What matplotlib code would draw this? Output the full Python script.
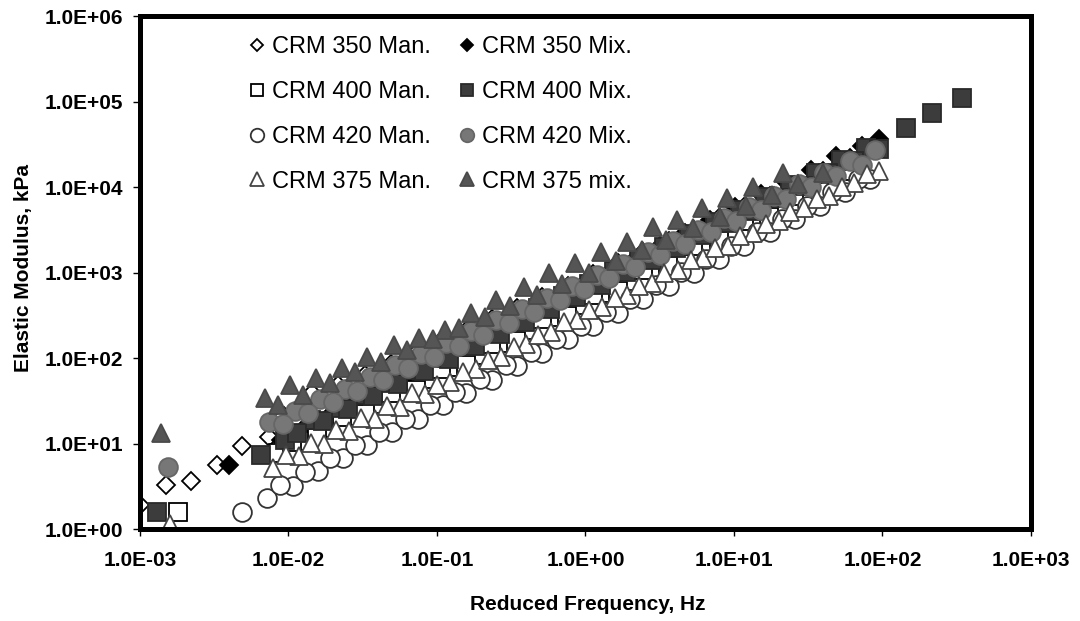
import matplotlib
matplotlib.use("Agg")
import matplotlib.pyplot as plt

plt.rcParams['font.family'] = ['Liberation Sans', 'DejaVu Sans']

# Reduced frequency (Hz) and elastic modulus (kPa).
# Each mix has two overlapping sweeps (a / b) that stack up into the dense band.
f_350_man_a = [0.001, 0.0015, 0.0022, 0.0033, 0.0049, 0.0074, 0.0093, 0.0145, 0.0215, 0.0327, 0.049, 0.072,
               0.107, 0.158, 0.234, 0.347, 0.513, 0.76, 1.12, 1.66, 2.45, 3.63, 5.37, 7.94, 11.7, 17.4, 25.7,
               38, 56, 87]
e_350_man_a = [1.9, 3.3, 3.6, 5.6, 9.3, 11.9, 21, 39, 48, 63, 86, 116, 157, 205, 286, 386, 521, 690, 951, 1285,
               1738, 2344, 3162, 4400, 5781, 7798, 10540, 14220, 19230, 26900]
f_350_man_b = [0.0118, 0.04, 0.06, 0.088, 0.13, 0.19, 0.28, 0.42, 0.62, 0.92, 1.38, 2.0, 3.0, 4.4, 6.5, 9.6,
               14, 21, 31, 46]
e_350_man_b = [26, 56, 76, 102, 138, 185, 248, 339, 457, 620, 847, 1125, 1535, 2060, 2780, 3750, 5010, 6840,
               9230, 12500]

f_350_mix_a = [0.004, 0.0089, 0.0132, 0.0195, 0.0288, 0.0427, 0.063, 0.0933, 0.138, 0.204, 0.302, 0.447, 0.661,
               0.977, 1.45, 2.14, 3.16, 4.68, 6.92, 10.2, 15.1, 22.4, 33.1, 49, 72.4, 95]
e_350_mix_a = [5.6, 11, 16, 23, 32, 46, 64, 91, 130, 180, 260, 360, 510, 730, 1000, 1450, 2050, 2900, 4100, 5800,
               8200, 11500, 16000, 23000, 30000, 36000]
f_350_mix_b = [0.011, 0.016, 0.024, 0.035, 0.052, 0.077, 0.115, 0.17, 0.25, 0.37, 0.55, 0.81, 1.2, 1.78, 2.6,
               3.9, 5.7, 8.4, 12.5, 18.5, 27, 40, 60]
e_350_mix_b = [10.9, 15.2, 21.8, 30.4, 43, 61, 87, 123, 173, 244, 347, 489, 692, 980, 1370, 1960, 2740, 3860,
               5500, 7770, 10800, 15400, 22000]

f_400_man_a = [0.0018, 0.0085, 0.0125, 0.0185, 0.027, 0.040, 0.059, 0.088, 0.13, 0.19, 0.28, 0.42, 0.62, 0.92,
               1.36, 2.0, 3.0, 4.4, 6.5, 9.6, 14.2, 21, 31, 46, 68]
e_400_man_a = [1.6, 7.8, 10.8, 15, 21, 29, 40, 57, 79, 109, 151, 214, 298, 416, 580, 805, 1140, 1570, 2190, 3050,
               4270, 5940, 8280, 11600, 16100]
f_400_man_b = [0.0105, 0.0155, 0.023, 0.033, 0.049, 0.072, 0.107, 0.158, 0.23, 0.34, 0.51, 0.75, 1.12, 1.65,
               2.45, 3.6, 5.3, 7.9, 11.7, 17.3, 25.5, 38, 56]
e_400_man_b = [10.4, 11.5, 20.3, 21.9, 38.6, 42.6, 75, 83, 144, 159, 283, 312, 552, 610, 1074, 1183, 2070, 2307,
               4055, 4487, 7870, 8770, 15350]

f_400_mix_a = [0.0013, 0.0065, 0.0095, 0.0141, 0.0209, 0.0309, 0.0457, 0.0676, 0.1, 0.148, 0.219, 0.324, 0.479,
               0.708, 1.05, 1.55, 2.29, 3.39, 5.01, 7.41, 11, 16.2, 24, 35.5, 52.5, 77.6, 144, 215, 343]
e_400_mix_a = [1.6, 7.4, 11, 19, 26, 37, 51, 72, 100, 140, 195, 270, 380, 530, 740, 1030, 1430, 2000, 2800, 3900,
               5400, 7600, 10500, 14700, 20500, 28600, 49000, 73000, 110000]
f_400_mix_b = [0.0115, 0.017, 0.025, 0.037, 0.055, 0.082, 0.12, 0.18, 0.265, 0.39, 0.58, 0.86, 1.27, 1.88, 2.8,
               4.1, 6.1, 9, 13.3, 19.7, 29, 43, 64, 95]
e_400_mix_b = [13.2, 18.4, 25.6, 35.7, 50, 70, 97, 137, 190, 264, 371, 518, 722, 1007, 1413, 1954, 2737, 3810,
               5310, 7410, 10300, 14400, 20200, 28200]

f_420_man_a = [0.0049, 0.0072, 0.0107, 0.0158, 0.0234, 0.0339, 0.050, 0.074, 0.11, 0.158, 0.234, 0.347, 0.513,
               0.76, 1.12, 1.66, 2.45, 3.63, 5.37, 7.94, 11.7, 17.4, 25.7, 38, 56, 83]
e_420_man_a = [1.6, 2.3, 3.2, 4.8, 6.8, 9.5, 13.6, 19.5, 28, 39, 56, 81, 116, 166, 238, 340, 489, 700, 1000, 1440,
               2060, 2960, 4240, 6080, 8710, 12470]
f_420_man_b = [0.0088, 0.013, 0.019, 0.028, 0.041, 0.061, 0.09, 0.133, 0.196, 0.29, 0.43, 0.63, 0.93, 1.37, 2.0,
               3.0, 4.4, 6.5, 9.6, 14.2, 21, 31, 46, 68]
e_420_man_b = [3.3, 4.7, 6.7, 9.6, 13.6, 19.6, 28, 40, 57, 82, 118, 168, 240, 344, 486, 706, 1005, 1440, 2060,
               2950, 4230, 6050, 8710, 12500]

f_420_mix_a = [0.00155, 0.0074, 0.011, 0.0162, 0.024, 0.0355, 0.0525, 0.0776, 0.115, 0.17, 0.251, 0.372, 0.55,
               0.813, 1.2, 1.78, 2.63, 3.89, 5.75, 8.51, 12.6, 18.6, 27.5, 40.7, 60.3, 89]
e_420_mix_a = [5.3, 18, 24, 33, 44, 60, 82, 111, 150, 205, 275, 375, 510, 690, 940, 1270, 1730, 2340, 3180, 4300,
               5850, 7950, 10800, 14700, 19900, 27000]
f_420_mix_b = [0.0092, 0.0135, 0.02, 0.029, 0.043, 0.064, 0.095, 0.14, 0.205, 0.305, 0.45, 0.67, 0.98, 1.45,
               2.15, 3.2, 4.7, 7, 10.3, 15.2, 22.5, 33, 49, 73]
e_420_mix_b = [16.7, 22.5, 30.6, 40.8, 55, 76, 103, 139, 188, 256, 347, 473, 636, 863, 1173, 1600, 2160, 2940,
               3980, 5390, 7330, 9880, 13400, 18300]

f_375_man_a = [0.0016, 0.0079, 0.0117, 0.0174, 0.0257, 0.038, 0.0562, 0.0832, 0.123, 0.182, 0.269, 0.398, 0.589,
               0.871, 1.29, 1.91, 2.82, 4.17, 6.17, 9.12, 13.5, 20, 29.5, 43.6, 64.6, 95.5]
e_375_man_a = [1.15, 5.2, 7.2, 10, 14, 19.6, 27, 38, 53, 74, 104, 145, 200, 280, 390, 550, 760, 1060, 1490, 2070,
               2880, 4030, 5620, 7830, 11000, 15200]
f_375_man_b = [0.0096, 0.0142, 0.021, 0.031, 0.046, 0.068, 0.1, 0.15, 0.22, 0.33, 0.48, 0.72, 1.06, 1.57, 2.3,
               3.4, 5.1, 7.5, 11, 16.4, 24, 36, 53, 79]
e_375_man_b = [7.3, 10.2, 14.3, 19.9, 27.7, 38.7, 49, 69, 96, 135, 186, 262, 364, 509, 705, 982, 1387, 1923,
               2661, 3740, 5164, 7295, 10140, 14220]

f_375_mix_a = [0.00138, 0.00695, 0.0102, 0.0153, 0.0229, 0.0338, 0.0513, 0.0757, 0.113, 0.169, 0.249, 0.385,
               0.568, 0.849, 1.27, 1.90, 2.85, 4.13, 6.10, 8.97, 13.4, 21.4]
e_375_mix_a = [13.3, 34, 48, 58, 76, 102, 142, 171, 212, 336, 476, 676, 986, 1288, 1738, 2275, 3404, 4111, 5675,
               7430, 10000, 14590]
f_375_mix_b = [0.0085, 0.0125, 0.019, 0.028, 0.042, 0.063, 0.094, 0.14, 0.21, 0.31, 0.47, 0.7, 1.05, 1.6, 2.4,
               3.5, 5.3, 8, 12, 18, 27, 40]
e_375_mix_b = [28, 37, 51, 68, 91, 124, 166, 223, 301, 401, 546, 733, 991, 1352, 1824, 2414, 3281, 4446, 6000,
               8110, 10940, 14620]

x_ticks = [1e-3, 1e-2, 1e-1, 1e0, 1e1, 1e2, 1e3]
y_ticks = [1e0, 1e1, 1e2, 1e3, 1e4, 1e5, 1e6]

# label, x, y, marker, size, face, edge (plotting order as in the original workbook)
series = [
    ("CRM 350 Man.", f_350_man_a + f_350_man_b, e_350_man_a + e_350_man_b, "D", 9.0, "white", "black"),
    ("CRM 350 Mix.", f_350_mix_a + f_350_mix_b, e_350_mix_a + e_350_mix_b, "D", 9.0, "black", "black"),
    ("CRM 400 Man.", f_400_man_a + f_400_man_b, e_400_man_a + e_400_man_b, "s", 12.5, "white", "black"),
    ("CRM 400 Mix.", f_400_mix_a + f_400_mix_b, e_400_mix_a + e_400_mix_b, "s", 12.5, "#3c3c3c", "#2a2a2a"),
    ("CRM 420 Man.", f_420_man_a + f_420_man_b, e_420_man_a + e_420_man_b, "o", 13.5, "white", "#333333"),
    ("CRM 420 Mix.", f_420_mix_a + f_420_mix_b, e_420_mix_a + e_420_mix_b, "o", 13.5, "#777777", "#666666"),
    ("CRM 375 Man.", f_375_man_a + f_375_man_b, e_375_man_a + e_375_man_b, "^", 13.5, "white", "#444444"),
    ("CRM 375 mix.", f_375_mix_a + f_375_mix_b, e_375_mix_a + e_375_mix_b, "^", 13.5, "#555555", "#4a4a4a"),
]

fig = plt.figure(figsize=(10.8, 6.21), dpi=100)
ax = fig.add_axes([0.1296, 0.1481, 0.825, 0.8261])

handles = {}
for label, x, y, marker, ms, face, edge in series:
    h, = ax.plot(x, y, linestyle="none", marker=marker, markersize=ms,
                 markerfacecolor=face, markeredgecolor=edge, markeredgewidth=1.3,
                 label=label)
    handles[label] = h

ax.set_xscale("log")
ax.set_yscale("log")
ax.set_xlim(1e-3, 1e3)
ax.set_ylim(1e0, 1e6)
ax.set_xticks(x_ticks)
ax.set_xticklabels([f"{v:.1E}" for v in x_ticks], fontweight="bold")
ax.set_yticks(y_ticks)
ax.set_yticklabels([f"{v:.1E}" for v in y_ticks], fontweight="bold")
ax.minorticks_off()
ax.tick_params(axis="both", direction="out", length=5, width=1, labelsize=15)
ax.tick_params(axis="x", pad=11)
ax.tick_params(axis="y", pad=7)

for sp in ax.spines.values():
    sp.set_linewidth(3.6)
    sp.set_zorder(5)

fig.text(588 / 1080, 1 - 605 / 621, "Reduced Frequency, Hz", ha="center", va="center",
         fontsize=15, fontweight="bold")
fig.text(24 / 1080, 1 - 268 / 621, "Elastic Modulus, kPa", ha="center", va="center",
         rotation=90, fontsize=15, fontweight="bold")

order = ["CRM 350 Man.", "CRM 400 Man.", "CRM 420 Man.", "CRM 375 Man.",
         "CRM 350 Mix.", "CRM 400 Mix.", "CRM 420 Mix.", "CRM 375 mix."]
ax.legend([handles[k] for k in order], order, ncol=2, loc="upper left",
          bbox_to_anchor=(250 / 1080, 0.942), bbox_transform=fig.transFigure,
          frameon=False, fontsize=17, markerscale=0.72, handlelength=0.6,
          handletextpad=0.35, columnspacing=1.2, labelspacing=0.97,
          borderpad=0, borderaxespad=0)

fig.savefig("out.png", dpi=100)
